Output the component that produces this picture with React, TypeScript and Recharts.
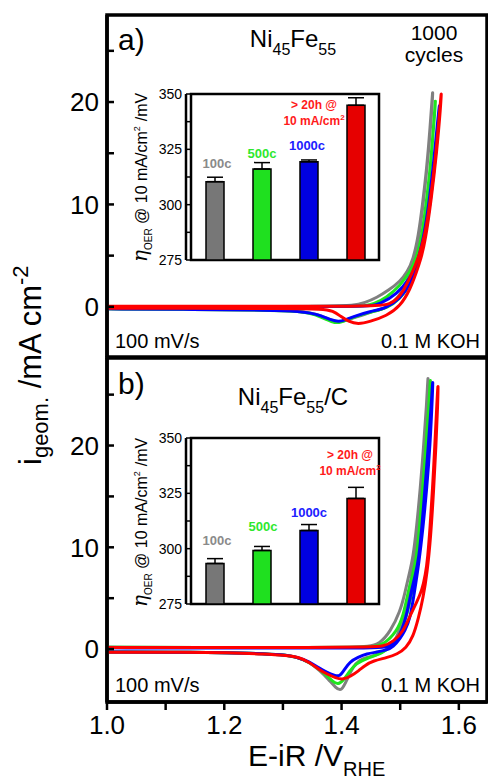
import React from 'react';
import {
  LineChart,
  Line,
  XAxis,
  YAxis,
  ReferenceArea,
  BarChart,
  Bar,
  ErrorBar,
  Cell,
  LabelList,
} from 'recharts';

type Pt = [number, number];

// CV loops, E-iR (V_RHE) vs i (mA/cm2): anodic sweep then cathodic sweep
// a) Ni45Fe55
const a100c: Pt[] = [
  [1.0, 0.02], [1.1, 0.02], [1.2, 0.02], [1.3, 0.03], [1.38, 0.05], [1.42, 0.12], [1.44, 0.4], [1.46, 0.9],
  [1.48, 1.6], [1.5, 2.5], [1.512, 3.4], [1.522, 4.6], [1.531, 6.9], [1.538, 10.0], [1.545, 13.4], [1.551, 17.5],
  [1.556, 21.8], [1.555, 20.0], [1.549, 15.5], [1.542, 11.5], [1.535, 8.0], [1.527, 5.2], [1.518, 3.3],
  [1.505, 1.6], [1.49, 0.5], [1.475, -0.15], [1.45, -0.5], [1.425, -1.0], [1.405, -1.4], [1.392, -1.5],
  [1.378, -1.2], [1.36, -0.75], [1.335, -0.45], [1.28, -0.32], [1.15, -0.25], [1.0, -0.2],
];
const a500c: Pt[] = [
  [1.0, 0.02], [1.2, 0.02], [1.35, 0.03], [1.42, 0.05], [1.44, 0.1], [1.454, 0.25], [1.477, 0.9], [1.5, 2.1],
  [1.517, 3.4], [1.528, 4.8], [1.537, 6.9], [1.544, 10.0], [1.551, 13.4], [1.556, 17.0], [1.561, 21.0],
  [1.559, 19.0], [1.553, 14.5], [1.546, 10.5], [1.538, 7.0], [1.53, 4.6], [1.52, 2.8], [1.51, 1.6], [1.5, 0.85],
  [1.48, -0.1], [1.45, -0.5], [1.42, -1.0], [1.4, -1.5], [1.388, -1.6], [1.375, -1.25], [1.355, -0.75],
  [1.335, -0.45], [1.28, -0.32], [1.15, -0.25], [1.0, -0.2],
];
const a1000c: Pt[] = [
  [1.0, 0.02], [1.2, 0.02], [1.35, 0.03], [1.43, 0.05], [1.45, 0.1], [1.465, 0.25], [1.494, 1.2], [1.517, 2.8],
  [1.528, 4.1], [1.538, 6.2], [1.547, 9.2], [1.555, 13.0], [1.562, 17.0], [1.568, 20.5], [1.566, 18.5],
  [1.56, 14.5], [1.552, 10.5], [1.543, 7.0], [1.535, 5.0], [1.528, 3.8], [1.517, 2.15], [1.5, 0.85],
  [1.477, -0.13], [1.448, -0.45], [1.42, -0.95], [1.405, -1.3], [1.395, -1.45], [1.383, -1.3], [1.365, -0.85],
  [1.346, -0.6], [1.33, -0.45], [1.28, -0.32], [1.15, -0.25], [1.0, -0.2],
];
const a20h: Pt[] = [
  [1.0, 0.05], [1.2, 0.05], [1.35, 0.05], [1.42, 0.06], [1.46, 0.1], [1.483, 0.25], [1.495, 0.8], [1.505, 1.5],
  [1.519, 3.1], [1.531, 4.75], [1.542, 6.9], [1.55, 9.8], [1.558, 13.4], [1.565, 17.5], [1.571, 21.8],
  [1.569, 19.5], [1.562, 15.0], [1.553, 10.5], [1.543, 6.5], [1.535, 4.6], [1.528, 3.45], [1.517, 1.7],
  [1.5, 0.05], [1.477, -0.88], [1.448, -1.45], [1.428, -1.7], [1.412, -1.45], [1.398, -0.9], [1.385, -0.4],
  [1.37, -0.2], [1.3, -0.15], [1.15, -0.15], [1.0, -0.15],
];

// b) Ni45Fe55/C
const b100c: Pt[] = [
  [1.0, 0.2], [1.2, 0.15], [1.35, 0.15], [1.42, 0.18], [1.445, 0.25], [1.465, 0.5], [1.483, 1.7], [1.5, 3.7],
  [1.508, 5.5], [1.515, 7.3], [1.522, 9.0], [1.528, 12.0], [1.534, 15.6], [1.54, 20.0], [1.545, 24.0],
  [1.548, 27.6], [1.547, 25.0], [1.543, 20.0], [1.537, 15.6], [1.531, 12.0], [1.524, 8.5], [1.515, 5.5],
  [1.505, 3.0], [1.494, 1.0], [1.48, 0.0], [1.46, -0.6], [1.443, -0.8], [1.43, -1.1], [1.42, -1.7],
  [1.41, -2.9], [1.4, -4.2], [1.39, -3.8], [1.378, -3.0], [1.363, -2.1], [1.345, -1.3], [1.325, -0.8],
  [1.3, -0.55], [1.25, -0.4], [1.15, -0.3], [1.0, -0.28],
];
const b500c: Pt[] = [
  [1.0, 0.18], [1.2, 0.15], [1.35, 0.15], [1.43, 0.18], [1.455, 0.25], [1.471, 0.4], [1.494, 1.7], [1.505, 3.2],
  [1.514, 5.75], [1.521, 7.3], [1.528, 9.0], [1.533, 12.0], [1.538, 15.6], [1.544, 20.0], [1.549, 24.0],
  [1.552, 27.3], [1.551, 25.0], [1.547, 20.0], [1.541, 15.6], [1.535, 12.0], [1.528, 8.5], [1.52, 5.5],
  [1.51, 3.0], [1.498, 1.2], [1.488, 0.4], [1.47, -0.4], [1.443, -0.9], [1.425, -1.4], [1.413, -2.2],
  [1.403, -3.1], [1.394, -3.5], [1.385, -3.2], [1.375, -2.6], [1.36, -1.9], [1.345, -1.3], [1.325, -0.8],
  [1.3, -0.55], [1.25, -0.4], [1.15, -0.3], [1.0, -0.28],
];
const b1000c: Pt[] = [
  [1.0, 0.12], [1.2, 0.1], [1.35, 0.1], [1.45, 0.1], [1.477, 0.15], [1.49, 0.6], [1.5, 1.37], [1.511, 3.3],
  [1.519, 5.75], [1.526, 7.3], [1.532, 9.0], [1.537, 12.0], [1.542, 15.6], [1.548, 20.0], [1.553, 24.0],
  [1.556, 27.0], [1.555, 25.0], [1.551, 20.0], [1.545, 15.6], [1.539, 12.0], [1.532, 8.5], [1.524, 5.5],
  [1.517, 3.0], [1.508, 1.8], [1.5, 1.05], [1.488, 0.2], [1.477, -0.1], [1.46, -0.3], [1.443, -0.45],
  [1.428, -0.8], [1.414, -1.25], [1.405, -2.0], [1.397, -2.7], [1.388, -2.6], [1.375, -2.3], [1.36, -1.8],
  [1.345, -1.25], [1.325, -0.8], [1.3, -0.55], [1.25, -0.4], [1.15, -0.3], [1.0, -0.28],
];
const b20h: Pt[] = [
  [1.0, 0.15], [1.2, 0.15], [1.35, 0.15], [1.45, 0.2], [1.471, 0.25], [1.488, 0.72], [1.505, 1.7], [1.517, 3.3],
  [1.528, 4.6], [1.537, 5.75], [1.543, 7.3], [1.547, 9.0], [1.551, 12.0], [1.555, 15.6], [1.559, 20.0],
  [1.562, 23.5], [1.565, 26.8], [1.564, 24.0], [1.561, 20.0], [1.557, 15.6], [1.552, 11.0], [1.546, 7.5],
  [1.539, 5.0], [1.531, 3.0], [1.522, 1.2], [1.51, 0.1], [1.495, -0.5], [1.477, -0.85], [1.454, -1.15],
  [1.44, -1.6], [1.43, -2.1], [1.415, -2.7], [1.403, -3.0], [1.39, -2.85], [1.375, -2.45], [1.363, -2.06],
  [1.345, -1.3], [1.329, -0.8], [1.3, -0.6], [1.27, -0.5], [1.215, -0.35], [1.1, -0.3], [1.0, -0.3],
];

// insets: overpotential at 10 mA/cm2 (mV)
const barCats = ['100c', '500c', '1000c', '20h'];
const etaA = [310.4, 316.1, 319.4, 344.9];
const errA = [2.0, 2.9, 0.8, 3.4];
const etaB = [293.3, 299.2, 308.2, 322.7];
const errB = [2.2, 1.8, 2.7, 5.0];

const xTicks = [1.0, 1.1, 1.2, 1.3, 1.4, 1.5, 1.6];
const yTicks = [0, 5, 10, 15, 20, 25];
const insetTicks = [275, 287.5, 300, 312.5, 325, 337.5, 350];

const curveColors = ['#808080', '#1ee61e', '#0000ff', '#ff0000'];
const barColors = ['#777777', '#1fe01f', '#0000e0', '#e60000'];
const labelColors = ['#8a8a8a', '#2ee82e', '#2020ff', '#ff1a1a'];

const FONT = '"Liberation Sans", Arial, sans-serif';

const toRows = (pts: Pt[]) => pts.map(([e, i]) => ({ e, i }));

interface PanelProps {
  loops: Pt[][];
  yDomain: [number, number];
  showX: boolean;
  height: number;
  margin: { top: number; right: number; bottom: number; left: number };
}

const CvPanel = ({ loops, yDomain, showX, height, margin }: PanelProps) => (
  <LineChart width={488} height={height} margin={margin}>
    <XAxis
      type="number"
      dataKey="e"
      domain={[1.0, 1.648]}
      allowDataOverflow
      ticks={xTicks}
      interval={0}
      hide={!showX}
      height={77}
      tickFormatter={(v: number) => (Math.round(v * 10) % 2 === 0 ? v.toFixed(1) : '')}
      tick={{ fontSize: 26, fill: '#000', fontFamily: FONT }}
      tickSize={8}
      tickMargin={6}
      axisLine={{ stroke: '#000', strokeWidth: 3.5 }}
      tickLine={{ stroke: '#000', strokeWidth: 2.5 }}
    />
    <YAxis
      type="number"
      domain={yDomain}
      allowDataOverflow
      width={107}
      ticks={yTicks}
      interval={0}
      tickFormatter={(v: number) => (v % 10 === 0 ? String(v) : '')}
      tick={{ fontSize: 26, fill: '#000', fontFamily: FONT }}
      tickSize={-7}
      tickMargin={15}
      axisLine={{ stroke: '#000', strokeWidth: 3.5 }}
      tickLine={{ stroke: '#000', strokeWidth: 2.5 }}
    />
    <ReferenceArea y1={yDomain[0]} y2={yDomain[1]} fill="none" stroke="#000" strokeWidth={3.5} />
    {loops.map((pts, k) => (
      <Line
        key={k}
        data={toRows(pts)}
        dataKey="i"
        type="basis"
        stroke={curveColors[k]}
        strokeWidth={3}
        dot={false}
        isAnimationActive={false}
      />
    ))}
  </LineChart>
);

// label offsets from bar top centre: [dx, baseline dy]
const labelOffsA: Pt[] = [[2, -14], [0, -11], [-2, -12], [-42, 4]];
const labelOffsB: Pt[] = [[2, -18], [1, -19], [0, -14], [-6, -39]];

const makeLabel = (offs: Pt[]) => (props: any) => {
  const { x, y, width, value } = props;
  const k = barCats.indexOf(value);
  if (k < 0) return null;
  const cx = Number(x) + Number(width) / 2 + offs[k][0];
  const ty = Number(y) + offs[k][1];
  if (k === 3) {
    return (
      <text x={cx} y={ty} textAnchor="middle" fill={labelColors[3]} fontSize={12} fontWeight="bold" fontFamily={FONT}>
        <tspan x={cx}>&gt; 20h @</tspan>
        <tspan x={cx} dy={16}>
          10 mA/cm<tspan dy={-5} fontSize={8}>2</tspan>
        </tspan>
      </text>
    );
  }
  return (
    <text x={cx} y={ty} textAnchor="middle" fill={labelColors[k]} fontSize={13} fontWeight="bold" fontFamily={FONT}>
      {value}
    </text>
  );
};

const Inset = ({ eta, err, offs }: { eta: number[]; err: number[]; offs: Pt[] }) => {
  const rows = barCats.map((c, k) => ({ c, v: eta[k], err: [0, err[k]] }));
  return (
    <BarChart width={290} height={190} data={rows} margin={{ top: 14, right: 6, bottom: 10, left: 46 }}>
      <XAxis dataKey="c" hide padding={{ left: 5, right: 5 }} />
      <YAxis
        domain={[275, 350]}
        allowDataOverflow
        ticks={insetTicks}
        interval={0}
        width={40}
        tickFormatter={(v: number) => (Number.isInteger(v) ? String(v) : '')}
        tick={{ fontSize: 14, fill: '#000', fontFamily: FONT }}
        tickSize={-4}
        tickMargin={8}
        axisLine={{ stroke: '#000', strokeWidth: 2.5 }}
        tickLine={{ stroke: '#000', strokeWidth: 1.5 }}
      />
      <ReferenceArea y1={275} y2={350} fill="none" stroke="#000" strokeWidth={2.5} />
      <Bar dataKey="v" barSize={18} stroke="#000" strokeWidth={1.5} isAnimationActive={false}>
        {rows.map((r, k) => (
          <Cell key={r.c} fill={barColors[k]} />
        ))}
        <ErrorBar dataKey="err" width={8} stroke="#000" strokeWidth={1.5} direction="y" />
        <LabelList dataKey="c" content={makeLabel(offs)} />
      </Bar>
    </BarChart>
  );
};

const abs = (left: number, top: number): React.CSSProperties => ({ position: 'absolute', left, top });

const App = () => (
  <div style={{ position: 'absolute', left: 0, top: 0, width: 488, height: 779, background: '#fff', fontFamily: FONT }}>
    <div style={abs(0, 0)}>
      <CvPanel
        loops={[a100c, a500c, a1000c, a20h]}
        yDomain={[-4.9, 28.5]}
        showX={false}
        height={362}
        margin={{ top: 15, right: 1, bottom: 5, left: 0 }}
      />
    </div>
    <div style={abs(0, 340)}>
      <CvPanel
        loops={[b100c, b500c, b1000c, b20h]}
        yDomain={[-5.2, 28.6]}
        showX
        height={439}
        margin={{ top: 18, right: 1, bottom: 0, left: 0 }}
      />
    </div>
    <div style={abs(100, 80)}>
      <Inset eta={etaA} err={errA} offs={labelOffsA} />
    </div>
    <div style={abs(100, 424)}>
      <Inset eta={etaB} err={errB} offs={labelOffsB} />
    </div>
    <svg width={488} height={779} style={{ position: 'absolute', left: 0, top: 0, pointerEvents: 'none' }} fontFamily={FONT}>
      <text x={118} y={50} fontSize={30}>a)</text>
      <text x={293} y={47} fontSize={24} textAnchor="middle">
        Ni<tspan fontSize={16} dy={8}>45</tspan>
        <tspan dy={-8}>Fe</tspan>
        <tspan fontSize={16} dy={8}>55</tspan>
      </text>
      <text x={434} y={40} fontSize={21} textAnchor="middle">1000</text>
      <text x={434} y={62} fontSize={21} textAnchor="middle">cycles</text>
      <text x={115} y={348} fontSize={20}>100 mV/s</text>
      <text x={480} y={348} fontSize={20} textAnchor="end">0.1 M KOH</text>

      <text x={118} y={394} fontSize={30}>b)</text>
      <text x={293} y={405} fontSize={24} textAnchor="middle">
        Ni<tspan fontSize={16} dy={8}>45</tspan>
        <tspan dy={-8}>Fe</tspan>
        <tspan fontSize={16} dy={8}>55</tspan>
        <tspan dy={-8}>/C</tspan>
      </text>
      <text x={115} y={692} fontSize={20}>100 mV/s</text>
      <text x={480} y={692} fontSize={20} textAnchor="end">0.1 M KOH</text>

      <text x={248} y={766} fontSize={30}>
        E-iR /V<tspan fontSize={20} dy={10}>RHE</tspan>
      </text>
      <text transform="translate(41,465) rotate(-90)" fontSize={31}>
        i<tspan fontSize={22} dy={7}>geom.</tspan>
        <tspan dy={-7}> /mA cm</tspan>
        <tspan fontSize={22} dy={-13}>-2</tspan>
      </text>

      {[262, 607].map((y0) => (
        <text key={y0} transform={`translate(147,${y0}) rotate(-90)`} fontSize={16}>
          <tspan fontFamily='"DejaVu Serif", serif' fontStyle="italic" fontSize={20}>η</tspan>
          <tspan fontSize={10} dy={5}>OER</tspan>
          <tspan dy={-5}> @ 10 mA/cm</tspan>
          <tspan fontSize={9} dy={-7}>2</tspan>
          <tspan dy={7} dx={5}>/mV</tspan>
        </text>
      ))}
    </svg>
  </div>
);

export default App;
